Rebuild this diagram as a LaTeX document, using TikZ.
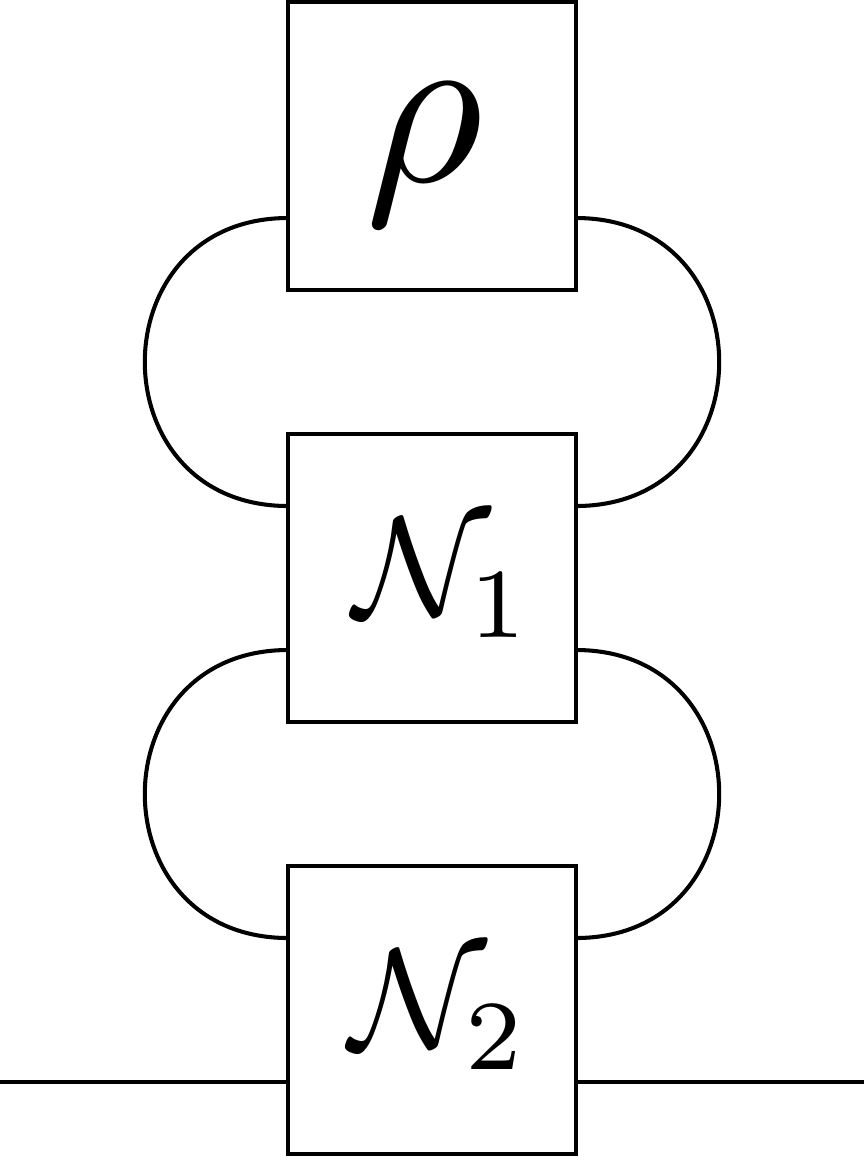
\documentclass[tikz,border=0pt]{standalone}
\usepackage{graphicx}
\begin{document}
\begin{tikzpicture}[
  wire/.style={line width=1.6pt},
  gate/.style={draw, line width=1.6pt, minimum size=4cm, inner sep=0pt, outer sep=0pt},
  loop/.style={wire, looseness=1.7}
]
\useasboundingbox (0,0) rectangle (12,-16.25);
\node[gate] (r) at (6,-2.028) {};
\node[gate] (n1) at (6,-8.028) {};
\node[gate] (n2) at (6,-14.028) {};
\node (tr) at ([xshift=-0.1cm,yshift=-0.12cm]r.center) {\scalebox{9}{$\rho$}};
\node (tn1) at ([xshift=0.16cm]n1.center) {\scalebox{5.6}{$\mathcal{N}_1$}};
\node (tn2) at ([xshift=0.1cm]n2.center) {\scalebox{5.6}{$\mathcal{N}_2$}};
\coordinate (l) at (0,-15.028);
\coordinate (rr) at (12,-15.028);
\draw[loop] ([yshift=-1cm]r.west) to[out=180,in=180] ([yshift=1cm]n1.west);
\draw[loop] ([yshift=-1cm]r.east) to[out=0,in=0] ([yshift=1cm]n1.east);
\draw[loop] ([yshift=-1cm]n1.west) to[out=180,in=180] ([yshift=1cm]n2.west);
\draw[loop] ([yshift=-1cm]n1.east) to[out=0,in=0] ([yshift=1cm]n2.east);
\draw[wire] (l) -- ([yshift=-1cm]n2.west);
\draw[wire] ([yshift=-1cm]n2.east) -- (rr);
\end{tikzpicture}
\end{document}
